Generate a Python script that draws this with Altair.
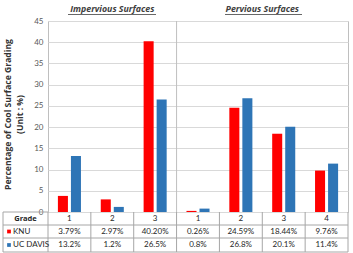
import altair as alt
import pandas as pd

cats = ["I1", "I2", "I3", "P1", "P2", "P3", "P4"]
grades = ["1", "2", "3", "1", "2", "3", "4"]
knu = [3.79, 2.97, 40.20, 0.26, 24.59, 18.44, 9.76]
ucd = [13.2, 1.2, 26.5, 0.8, 26.8, 20.1, 11.4]
knu_lab = ["3.79%", "2.97%", "40.20%", "0.26%", "24.59%", "18.44%", "9.76%"]
ucd_lab = ["13.2%", "1.2%", "26.5%", "0.8%", "26.8%", "20.1%", "11.4%"]
series = ["KNU", "UC DAVIS"]
colors = ["#ff0000", "#2e75b6"]
y_ticks = list(range(0, 46, 5))

rows = []
for c, k, u in zip(cats, knu, ucd):
    rows.append({"cat": c, "series": "KNU", "value": k})
    rows.append({"cat": c, "series": "UC DAVIS", "value": u})
bars_df = pd.DataFrame(rows)
table_df = pd.DataFrame({"cat": cats, "grade": grades, "knu": knu_lab, "ucd": ucd_lab})

FONT = "Lato"
BFONT = "Open Sans"
W, H = 300, 191
LINE = "#a6a6a6"
TXT = "#262626"
xscale = alt.Scale(domain=cats, paddingInner=0, paddingOuter=0)


def X(**kw):
    return alt.X("cat:N", scale=xscale, axis=None, **kw)


bars = alt.Chart(bars_df).mark_bar().encode(
    x=X(),
    xOffset=alt.XOffset("series:N", scale=alt.Scale(domain=series, paddingInner=0.23, paddingOuter=0.76)),
    y=alt.Y(
        "value:Q",
        scale=alt.Scale(domain=[0, 45], nice=False),
        axis=alt.Axis(
            values=y_ticks, ticks=False, domain=False, grid=True, gridColor="#d9d9d9",
            labelColor="#595959", labelFontSize=8, labelFont=FONT, labelPadding=5,
            title=["Percentage of Cool Surface Grading", "(Unit : %)"],
            titleFont=BFONT, titleFontSize=8.6, titleFontWeight="bold", titleColor="#333333",
            titleX=-45, titleY=93, titleBaseline="top", titleLineHeight=12, titleAnchor="middle",
        ),
    ),
    color=alt.Color("series:N", scale=alt.Scale(domain=series, range=colors), legend=None),
)

base_t = alt.Chart(table_df)
grade_txt = base_t.mark_text(font=FONT, fontSize=8, color=TXT).encode(x=X(), y=alt.value(197.5), text="grade:N")
knu_txt = base_t.mark_text(font=FONT, fontSize=8, color=TXT).encode(x=X(), y=alt.value(210.5), text="knu:N")
ucd_txt = base_t.mark_text(font=FONT, fontSize=8, color=TXT).encode(x=X(), y=alt.value(224), text="ucd:N")

vlines = base_t.mark_rule(color=LINE, strokeWidth=1).encode(
    x=X(bandPosition=0), y=alt.value(H), y2=alt.value(231)
)
divider = base_t.transform_filter(alt.datum.cat == "P1").mark_rule(color="#bfbfbf", strokeWidth=1).encode(
    x=X(bandPosition=0), y=alt.value(0), y2=alt.value(H)
)

one = alt.Chart(pd.DataFrame({"k": [0]}))
extra = []
for yy in [204, 217, 231]:
    extra.append(one.mark_rule(color=LINE).encode(x=alt.value(-45), x2=alt.value(W), y=alt.value(yy)))
extra.append(one.mark_rule(color=LINE).encode(x=alt.value(-45), x2=alt.value(0), y=alt.value(H)))
extra.append(one.mark_rule(color=LINE).encode(x=alt.value(-45), y=alt.value(H), y2=alt.value(231)))
extra.append(one.mark_rule(color=LINE).encode(x=alt.value(W), y=alt.value(H), y2=alt.value(231)))

row_lbls = [
    one.mark_text(font=BFONT, fontSize=7.5, fontWeight="bold", color=TXT).encode(
        x=alt.value(-22.5), y=alt.value(197.5), text=alt.value("Grade")),
    one.mark_text(font=FONT, fontSize=8, color=TXT, align="left").encode(
        x=alt.value(-35), y=alt.value(210.5), text=alt.value("KNU")),
    one.mark_text(font=FONT, fontSize=8, color=TXT, align="left").encode(
        x=alt.value(-35), y=alt.value(224), text=alt.value("UC DAVIS")),
    one.mark_square(size=14, opacity=1, color=colors[0]).encode(x=alt.value(-39), y=alt.value(210.5)),
    one.mark_square(size=14, opacity=1, color=colors[1]).encode(x=alt.value(-39), y=alt.value(224)),
]

titles_df = pd.DataFrame({"cat": ["I2", "P3"], "label": ["Impervious Surfaces", "Pervious Surfaces"]})
tstyle = dict(font=BFONT, fontSize=8.8, fontWeight="bold", fontStyle="italic", color="#404040", baseline="alphabetic")
t_imp = alt.Chart(titles_df).transform_filter(alt.datum.cat == "I2").mark_text(**tstyle).encode(
    x=X(), y=alt.value(-9), text="label:N")
t_per = alt.Chart(titles_df).transform_filter(alt.datum.cat == "P3").mark_text(**tstyle).encode(
    x=X(bandPosition=0), y=alt.value(-9), text="label:N")
u1 = one.mark_rule(color="#404040", strokeWidth=0.8).encode(x=alt.value(20), x2=alt.value(108), y=alt.value(-6.5))
u2 = one.mark_rule(color="#404040", strokeWidth=0.8).encode(x=alt.value(177), x2=alt.value(254), y=alt.value(-6.5))

chart = alt.layer(
    bars, divider, vlines, *extra, grade_txt, knu_txt, ucd_txt, *row_lbls, t_imp, t_per, u1, u2
).properties(
    width=W, height=H,
    autosize=alt.AutoSizeParams(type="none"),
    padding={"left": 48, "top": 21, "right": 5, "bottom": 41},
    background="white",
).configure_view(stroke="#bfbfbf")

chart.save("out.html", embed_options={"renderer": "svg", "actions": False})
